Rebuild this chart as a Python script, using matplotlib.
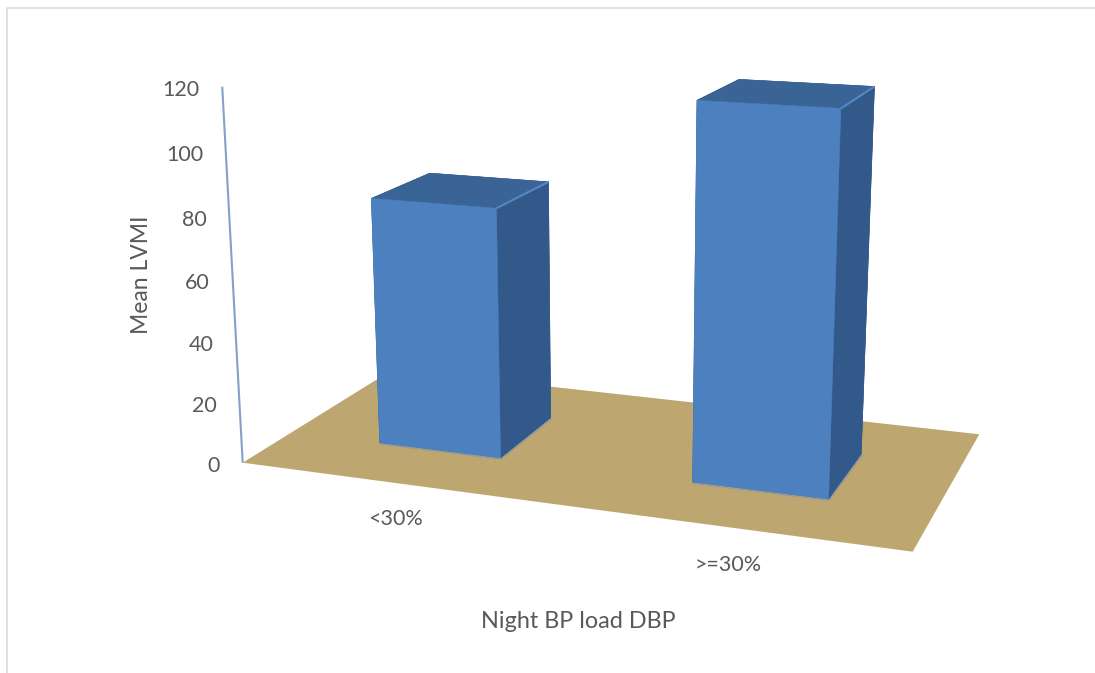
import numpy as np
import matplotlib
matplotlib.use('Agg')
import matplotlib.pyplot as plt
from matplotlib.lines import Line2D
from mpl_toolkits.mplot3d import proj3d
from mpl_toolkits.mplot3d.art3d import Line3DCollection

categories = ['<30%', '>=30%']
mean_lvmi = [81.5, 118.5]
z_ticks = [0, 20, 40, 60, 80, 100, 120]

plt.rcParams['font.family'] = ['Lato', 'DejaVu Sans']
TEXT = '#595959'

fig = plt.figure(figsize=(10.95, 6.73), dpi=100)
ax = fig.add_axes([0, 0, 1, 1], projection='3d', computed_zorder=False)
ax.set_axis_off()

# camera of the original 3D chart, data (x, y, z) -> figure pixels
camera = np.array([[281.78, 212.39, -0.2672, 242.7],
                   [12.33, -35.61, -3.171, 462.7],
                   [-0.0583, 0.1568, -4.344e-4, 0.0],
                   [-0.0583, 0.1568, -4.344e-4, 1.0]])
ax.get_proj = lambda: camera
ax.apply_aspect = lambda position=None: None
ax.viewLim.intervalx = (0, 1095)
ax.viewLim.intervaly = (673, 0)


def label(x, y, z, text, dx=0, dy=0, **kw):
    px, py, _ = proj3d.proj_transform(x, y, z, camera)
    ax.text2D(px + dx, py + dy, text, transform=ax.transData, color=TEXT, va='center', **kw)


# floor
X, Y = np.meshgrid([0, 2], [0, 1])
ax.plot_surface(X, Y, np.zeros_like(X), color='#bda670', shade=False, zorder=1)

# bars, 150% gap in x and 0.4 of the depth in y
centers = np.arange(len(mean_lvmi)) + 0.5
width = 0.4
depth = 0.4
y0 = 0.3
lefts = centers - width / 2

# grey shadow round the foot of the bars
foot = [[(x, y0, 0), (x + width, y0, 0), (x + width, y0 + depth, 0)] for x in lefts]
ax.add_collection3d(Line3DCollection(foot, colors='#9b9c8c', linewidths=3, zorder=1.5))

# bottom, top, front, back, left, right
face_colors = ['#4d80be', '#3a6496', '#4d80be', '#33598a', '#33598a', '#33598a'] * len(mean_lvmi)
ax.bar3d(lefts, [y0] * len(centers), [0] * len(centers),
         width, depth, mean_lvmi, color=face_colors, shade=False,
         edgecolor=face_colors, linewidth=0.4, zorder=2)

# lighter edge on the right of the top face
edges = [[(x + width, y0, h), (x + width, y0 + depth, h)] for x, h in zip(lefts, mean_lvmi)]
ax.add_collection3d(Line3DCollection(edges, colors='#5587c4', linewidths=1.5, zorder=3))

# value axis
axis_line = [[(0, 0, 0), (0, 0, z_ticks[-1])]]
ax.add_collection3d(Line3DCollection(axis_line, colors='#86a0c8', linewidths=1.5, zorder=3))
for t in z_ticks:
    label(0, 0, t, str(t), dx=-22.7, dy=3, ha='right', fontsize=15.5)

# category labels
label_x = [0.62, 1.57]
for x, name in zip(label_x, categories):
    label(x, -0.24, 0, name, dy=1.5, ha='center', fontsize=15.5)

fig.text(142 / 1095, 1 - 275 / 673, 'Mean LVMI', rotation=90, ha='center', va='center',
         fontsize=16.5, color=TEXT)
fig.text(578 / 1095, 1 - 622 / 673, 'Night BP load DBP', ha='center', va='center',
         fontsize=16.8, color=TEXT)

# chart frame
fig.add_artist(Line2D([6.5 / 1095, 6.5 / 1095, 1], [0, 1 - 7.5 / 673, 1 - 7.5 / 673],
                      color='#d9d9d9', lw=1.2))

fig.savefig('out.png', dpi=100)
